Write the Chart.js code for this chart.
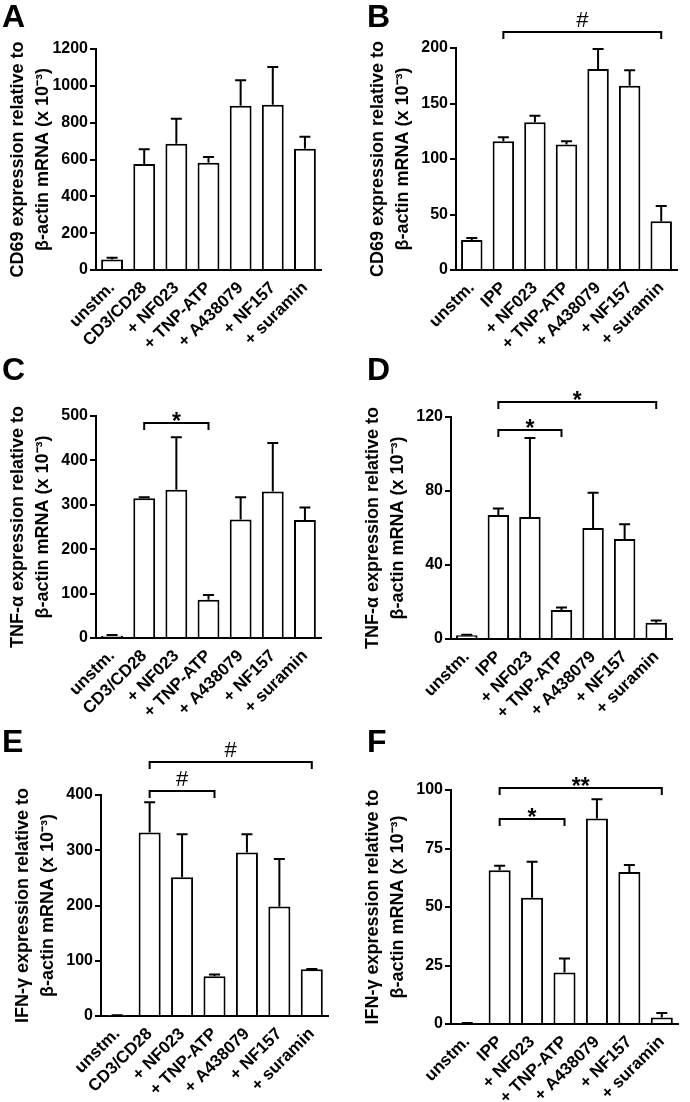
<!DOCTYPE html>
<html>
<head>
<meta charset="utf-8">
<script src="https://cdn.jsdelivr.net/npm/chart.js@4"></script>
<style>
  body { margin: 0; background: #fff; width: 690px; height: 1102px; position: relative; overflow: hidden; }
  canvas { position: absolute; }
</style>
</head>
<body>
<script>
// categories
const catsCD3 = ["unstm.", "CD3/CD28", "+ NF023", "+ TNP-ATP", "+ A438079", "+ NF157", "+ suramin"];
const catsIPP = ["unstm.", "IPP", "+ NF023", "+ TNP-ATP", "+ A438079", "+ NF157", "+ suramin"];

// A - CD69, CD3/CD28
const meanA = [57, 576, 685, 582, 892, 897, 658];
const semA = [9, 80, 136, 32, 138, 205, 65];
// B - CD69, IPP
const meanB = [27, 116, 133, 113, 181, 166, 44];
const semB = [1.8, 3.6, 6, 3, 18, 14, 13.6];
// C - TNF-a, CD3/CD28
const meanC = [5, 315, 334, 86, 267, 330, 266];
const semC = [2, 2, 118, 11, 50, 109, 28];
// D - TNF-a, IPP
const meanD = [2, 67, 66, 15.7, 60, 54, 8.8];
const semD = [0.3, 3.6, 42.6, 1.3, 19, 8, 1.2];
// E - IFN-g, CD3/CD28
const meanE = [1, 332, 251, 72, 296, 198, 84.5];
const semE = [0.5, 55, 78, 3, 33, 86, 0.5];
// F - IFN-g, IPP
const meanF = [0.3, 65.7, 54, 22, 87.8, 65, 2.8];
const semF = [0.1, 1.9, 15.3, 6, 8.2, 3, 1.9];

// y axis ranges
const yMax = { A: 1200, B: 200, C: 500, D: 120, E: 400, F: 100 };
const yStep = { A: 200, B: 50, C: 100, D: 40, E: 100, F: 25 };

// significance brackets: [from index, to index, y value, label]
const bracketsB = [[1, 6, 214, "#"]];
const bracketsC = [[1, 3, 485, "*"]];
const bracketsD = [[1, 3, 113, "*"], [1, 6, 128, "*"]];
const bracketsE = [[1, 3, 408, "#"], [1, 6, 460, "#"]];
const bracketsF = [[1, 3, 87.5, "*"], [1, 6, 101, "**"]];

const titleCD69 = ["CD69 expression relative to", "\u03b2-actin mRNA (x 10\u207b\u00b3)"];
const titleTNF = ["TNF-\u03b1 expression relative to", "\u03b2-actin mRNA (x 10\u207b\u00b3)"];
const titleIFN = ["IFN-\u03b3 expression relative to", "\u03b2-actin mRNA (x 10\u207b\u00b3)"];

const FONT = "'Liberation Sans', Arial, Helvetica, sans-serif";
Chart.defaults.font.family = FONT;
Chart.defaults.color = "#000";

// panel placement on the page
const panels = [
  { id: "A", left: 0,   top: 0,   h: 355, cats: catsCD3, mean: meanA, sem: semA, br: [],        title: titleCD69, padL: 0,  padT: 49, padR: 24, xH: 85, lx: 2,  ly: 27 },
  { id: "B", left: 345, top: 0,   h: 355, cats: catsIPP, mean: meanB, sem: semB, br: bracketsB, title: titleCD69, padL: 15, padT: 48, padR: 13, xH: 85, lx: 22, ly: 27 },
  { id: "C", left: 0,   top: 355, h: 370, cats: catsCD3, mean: meanC, sem: semC, br: bracketsC, title: titleTNF,  padL: 0,  padT: 61, padR: 24, xH: 87, lx: 2,  ly: 25 },
  { id: "D", left: 345, top: 355, h: 370, cats: catsIPP, mean: meanD, sem: semD, br: bracketsD, title: titleTNF,  padL: 10, padT: 62, padR: 18, xH: 86, lx: 22, ly: 25 },
  { id: "E", left: 0,   top: 725, h: 377, cats: catsCD3, mean: meanE, sem: semE, br: bracketsE, title: titleIFN,  padL: 5,  padT: 70, padR: 17, xH: 86, lx: 2,  ly: 27 },
  { id: "F", left: 345, top: 725, h: 377, cats: catsIPP, mean: meanF, sem: semF, br: bracketsF, title: titleIFN,  padL: 10, padT: 65, padR: 12, xH: 78, lx: 22, ly: 27 }
];

// error bars, brackets and panel letter
function makeExtras(p) {
  return {
    id: "extras" + p.id,
    afterDraw(chart) {
      const ctx = chart.ctx;
      const xs = chart.scales.x, ys = chart.scales.y;
      const meta = chart.getDatasetMeta(0);
      ctx.save();
      ctx.strokeStyle = "#000";
      ctx.fillStyle = "#000";
      ctx.lineWidth = 2;
      meta.data.forEach((bar, i) => {
        const top = ys.getPixelForValue(p.mean[i] + p.sem[i]);
        ctx.beginPath();
        ctx.moveTo(bar.x, bar.y);
        ctx.lineTo(bar.x, top);
        ctx.moveTo(bar.x - 5.5, top);
        ctx.lineTo(bar.x + 5.5, top);
        ctx.stroke();
      });
      p.br.forEach(b => {
        const x1 = xs.getPixelForValue(b[0]);
        const x2 = xs.getPixelForValue(b[1]);
        const y = Math.round(ys.getPixelForValue(b[2]));
        ctx.beginPath();
        ctx.moveTo(x1, y + 7);
        ctx.lineTo(x1, y);
        ctx.lineTo(x2, y);
        ctx.lineTo(x2, y + 7);
        ctx.stroke();
        ctx.textAlign = "center";
        ctx.textBaseline = "alphabetic";
        if (b[3] === "#") {
          ctx.font = "22px " + FONT;
          ctx.fillText(b[3], (x1 + x2) / 2, y - 5);
        } else {
          ctx.font = "bold 23px " + FONT;
          ctx.fillText(b[3], (x1 + x2) / 2, y + 6);
        }
      });
      ctx.font = "bold 32px " + FONT;
      ctx.textAlign = "left";
      ctx.fillText(p.id, p.lx, p.ly);
      ctx.restore();
    }
  };
}

panels.forEach(p => {
  const canvas = document.createElement("canvas");
  canvas.width = 345;
  canvas.height = p.h;
  canvas.style.left = p.left + "px";
  canvas.style.top = p.top + "px";
  canvas.style.width = "345px";
  canvas.style.height = p.h + "px";
  document.body.appendChild(canvas);

  new Chart(canvas.getContext("2d"), {
    type: "bar",
    data: {
      labels: p.cats,
      datasets: [{
        data: p.mean,
        backgroundColor: "#fff",
        borderColor: "#000",
        borderWidth: 2,
        borderSkipped: "start",
        barPercentage: 0.68,
        categoryPercentage: 1
      }]
    },
    options: {
      responsive: false,
      animation: false,
      devicePixelRatio: 1,
      layout: { padding: { left: p.padL, top: p.padT, right: p.padR, bottom: 0 } },
      plugins: { legend: { display: false }, tooltip: { enabled: false } },
      scales: {
        x: {
          grid: { display: false },
          border: { display: true, color: "#000", width: 2 },
          ticks: {
            autoSkip: false, minRotation: 45, maxRotation: 45, padding: 0,
            font: { size: 17, weight: "bold" }, color: "#000"
          },
          afterFit: s => { s.height = p.xH; }
        },
        y: {
          min: 0,
          max: yMax[p.id],
          grid: { display: true, drawOnChartArea: false, drawTicks: true, tickLength: 6, color: "#000", lineWidth: 2 },
          border: { display: true, color: "#000", width: 2 },
          ticks: {
            stepSize: yStep[p.id], padding: 2,
            font: { size: 16, weight: "bold" }, color: "#000",
            callback: v => String(v)
          },
          title: {
            display: true,
            text: p.title,
            font: { size: 18, weight: "bold", lineHeight: 1.38 },
            color: "#000",
            padding: { top: 6, bottom: 0 }
          },
          afterFit: s => { s.width = 96; }
        }
      }
    },
    plugins: [makeExtras(p)]
  });
});
</script>
</body>
</html>
